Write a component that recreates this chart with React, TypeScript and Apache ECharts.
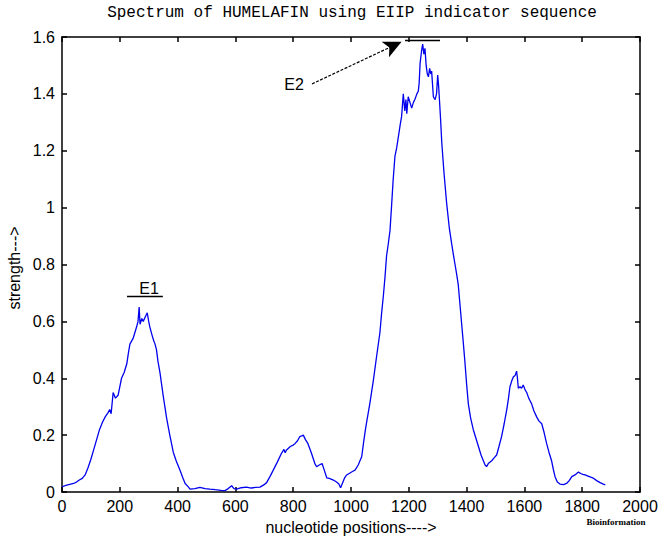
import React, { useEffect, useRef } from "react";
import * as echarts from "echarts";

const positions: number[] = [
  0, 10, 20, 30, 40, 50, 60, 70, 80, 90, 100, 110, 120, 130, 140, 150, 160, 165, 170, 177,
  185, 194, 206, 215, 224, 230, 235, 246, 258, 263, 267, 270, 276, 281, 290, 295, 300, 304, 312, 318,
  322, 327, 332, 339, 350, 362, 373, 385, 395, 408, 418, 426, 437, 443, 460, 477, 495, 512, 530, 550,
  564, 575, 587, 595, 604, 620, 638, 655, 670, 685, 698, 708, 720, 731, 745, 760, 768, 772, 777, 790,
  800, 806, 815, 823, 829, 835, 842, 851, 862, 875, 881, 890, 900, 908, 916, 925, 939, 950, 958, 964,
  970, 978, 985, 995, 1005, 1014, 1025, 1031, 1037, 1043, 1050, 1054, 1065, 1077, 1089, 1100, 1106, 1112, 1118, 1123,
  1130, 1135, 1140, 1146, 1152, 1158, 1164, 1170, 1175, 1181, 1186, 1190, 1193, 1198, 1204, 1210, 1216, 1221, 1228, 1233,
  1236, 1239, 1244, 1248, 1252, 1256, 1260, 1264, 1268, 1272, 1276, 1279, 1283, 1285, 1291, 1296, 1300, 1303, 1306, 1310,
  1314, 1322, 1331, 1340, 1348, 1355, 1360, 1365, 1371, 1377, 1383, 1389, 1394, 1400, 1406, 1414, 1423, 1432, 1441, 1450,
  1458, 1464, 1469, 1475, 1487, 1495, 1504, 1512, 1521, 1530, 1539, 1545, 1550, 1556, 1562, 1568, 1573, 1576, 1579, 1585,
  1590, 1596, 1602, 1608, 1615, 1620, 1625, 1633, 1642, 1650, 1660, 1668, 1677, 1685, 1694, 1700, 1706, 1714, 1723, 1735,
  1746, 1755, 1764, 1775, 1787, 1795, 1802, 1810, 1820, 1830, 1838, 1850, 1862, 1873, 1880,
];

const strength: number[] = [
  0.018, 0.022, 0.025, 0.028, 0.03, 0.035, 0.042, 0.048, 0.06, 0.085, 0.115, 0.15, 0.185, 0.22, 0.245, 0.265, 0.28, 0.29, 0.275, 0.35,
  0.33, 0.34, 0.4, 0.42, 0.45, 0.49, 0.52, 0.54, 0.58, 0.6, 0.65, 0.59, 0.61, 0.6, 0.62, 0.63, 0.6, 0.58, 0.55, 0.53,
  0.52, 0.5, 0.46, 0.42, 0.34, 0.26, 0.2, 0.14, 0.11, 0.077, 0.05, 0.03, 0.018, 0.01, 0.012, 0.016, 0.012, 0.01, 0.008, 0.006,
  0.005, 0.012, 0.022, 0.012, 0.01, 0.015, 0.017, 0.014, 0.016, 0.017, 0.025, 0.033, 0.055, 0.077, 0.105, 0.137, 0.15, 0.138, 0.148, 0.16,
  0.165, 0.17, 0.18, 0.195, 0.197, 0.2, 0.185, 0.17, 0.14, 0.1, 0.089, 0.095, 0.1, 0.075, 0.05, 0.048, 0.042, 0.035, 0.028, 0.015,
  0.03, 0.05, 0.06, 0.066, 0.072, 0.077, 0.095, 0.11, 0.124, 0.17, 0.22, 0.245, 0.31, 0.39, 0.48, 0.56, 0.63, 0.69, 0.76, 0.83,
  0.88, 0.92, 1.0, 1.1, 1.18, 1.21, 1.25, 1.29, 1.32, 1.4, 1.34, 1.38, 1.33, 1.39, 1.37, 1.35, 1.37, 1.38, 1.4, 1.41,
  1.44, 1.507, 1.55, 1.575, 1.54, 1.56, 1.5, 1.47, 1.46, 1.49, 1.47, 1.48, 1.42, 1.39, 1.38, 1.4, 1.466, 1.43, 1.38, 1.31,
  1.23, 1.12, 1.015, 0.93, 0.875, 0.83, 0.8, 0.77, 0.73, 0.66, 0.59, 0.52, 0.46, 0.38, 0.31, 0.26, 0.22, 0.19, 0.16, 0.13,
  0.11, 0.095, 0.089, 0.1, 0.11, 0.12, 0.13, 0.16, 0.195, 0.24, 0.29, 0.33, 0.37, 0.39, 0.405, 0.41, 0.425, 0.4, 0.365, 0.37,
  0.365, 0.376, 0.36, 0.35, 0.33, 0.32, 0.31, 0.285, 0.265, 0.25, 0.24, 0.21, 0.17, 0.14, 0.11, 0.08, 0.054, 0.035, 0.028, 0.026,
  0.03, 0.04, 0.054, 0.06, 0.07, 0.065, 0.062, 0.06, 0.056, 0.052, 0.049, 0.04, 0.033, 0.028, 0.025,
];

const X_MIN = 0;
const X_MAX = 2000;
const X_STEP = 200;
const Y_MIN = 0;
const Y_MAX = 1.6;
const Y_STEP = 0.2;

// annotation anchors in data units
const e1Line: [number, number][] = [[225, 0.689], [349, 0.689]];
const e2Line: [number, number][] = [[1187, 1.588], [1308, 1.588]];
const e2Arrow: [number, number][] = [[865, 1.435], [1175, 1.583]];

const FONT = "'Liberation Sans', Arial, sans-serif";

export default function App() {
  const ref = useRef<HTMLDivElement>(null);
  useEffect(() => {
    if (!ref.current) return;
    const chart = echarts.init(ref.current, null, { renderer: "svg" });
    const data = positions.map((p, i) => [p, strength[i]]);
    const line = { show: true, onZero: false, lineStyle: { color: "#000", width: 1.5 } };
    const tick = { show: true, inside: true, length: 5, lineStyle: { color: "#000", width: 1.5 } };
    chart.setOption({
      animation: false,
      grid: { left: 62, right: 24, top: 37, bottom: 51 },
      xAxis: [
        {
          type: "value", min: X_MIN, max: X_MAX, interval: X_STEP, position: "bottom",
          axisLine: line, axisTick: tick, splitLine: { show: false },
          axisLabel: { show: true, color: "#000", fontSize: 16, fontFamily: FONT, margin: 6,
            formatter: (v: number) => String(v) },
        },
        {
          type: "value", min: X_MIN, max: X_MAX, interval: X_STEP, position: "top",
          axisLine: line, axisTick: tick, splitLine: { show: false },
          axisLabel: { show: false },
        },
      ],
      yAxis: [
        {
          type: "value", min: Y_MIN, max: Y_MAX, interval: Y_STEP, position: "left",
          axisLine: line, axisTick: tick, splitLine: { show: false },
          axisLabel: { show: true, color: "#000", fontSize: 16, fontFamily: FONT, margin: 7,
            formatter: (v: number) => String(Math.round(v * 10) / 10) },
        },
        {
          type: "value", min: Y_MIN, max: Y_MAX, interval: Y_STEP, position: "right",
          axisLine: line, axisTick: tick, splitLine: { show: false },
          axisLabel: { show: false },
        },
      ],
      series: [
        {
          type: "line",
          data,
          showSymbol: false,
          lineStyle: { color: "#0000ee", width: 1.3 },
          itemStyle: { color: "#0000ee" },
          markLine: {
            silent: true,
            animation: false,
            label: { show: false },
            data: [
              [
                { coord: e1Line[0], symbol: "none", lineStyle: { color: "#000", width: 1.3, type: "solid" } },
                { coord: e1Line[1], symbol: "none" },
              ],
              [
                { coord: e2Line[0], symbol: "none", lineStyle: { color: "#000", width: 1.3, type: "solid" } },
                { coord: e2Line[1], symbol: "none" },
              ],
              [
                { coord: e2Arrow[0], symbol: "none", lineStyle: { color: "#000", width: 1.2, type: [3, 1.5] } },
                { coord: e2Arrow[1], symbol: "arrow", symbolSize: [13, 18] },
              ],
            ],
          },
        },
        { type: "line", xAxisIndex: 1, yAxisIndex: 1, data: [], showSymbol: false, silent: true },
      ],
      graphic: [
        {
          type: "text", x: 352, y: 13,
          style: {
            text: "Spectrum of HUMELAFIN using EIIP indicator sequence",
            font: "16px 'Liberation Mono', 'Courier New', monospace",
            fill: "#000", align: "center", verticalAlign: "middle",
          },
        },
        {
          type: "text", x: 351, y: 527,
          style: { text: "nucleotide positions---->", font: `16px ${FONT}`, fill: "#000", align: "center", verticalAlign: "middle" },
        },
        {
          type: "text", x: 14, y: 268, rotation: Math.PI / 2,
          style: { text: "strength--->", font: `16px ${FONT}`, fill: "#000", align: "center", verticalAlign: "middle" },
        },
        {
          type: "text", x: 616, y: 522,
          style: {
            text: "Bioinformation", font: "bold 9px 'Liberation Serif', 'Times New Roman', serif",
            fill: "#000", align: "center", verticalAlign: "middle",
          },
        },
        {
          type: "text", x: 149, y: 288,
          style: { text: "E1", font: `16px ${FONT}`, fill: "#000", align: "center", verticalAlign: "middle" },
        },
        {
          type: "text", x: 294, y: 84,
          style: { text: "E2", font: `16px ${FONT}`, fill: "#000", align: "center", verticalAlign: "middle" },
        },
      ],
    });
    return () => chart.dispose();
  }, []);
  return (
    <div ref={ref} style={{ position: "fixed", left: 0, top: 0, width: 664, height: 543, background: "#fff" }} />
  );
}
